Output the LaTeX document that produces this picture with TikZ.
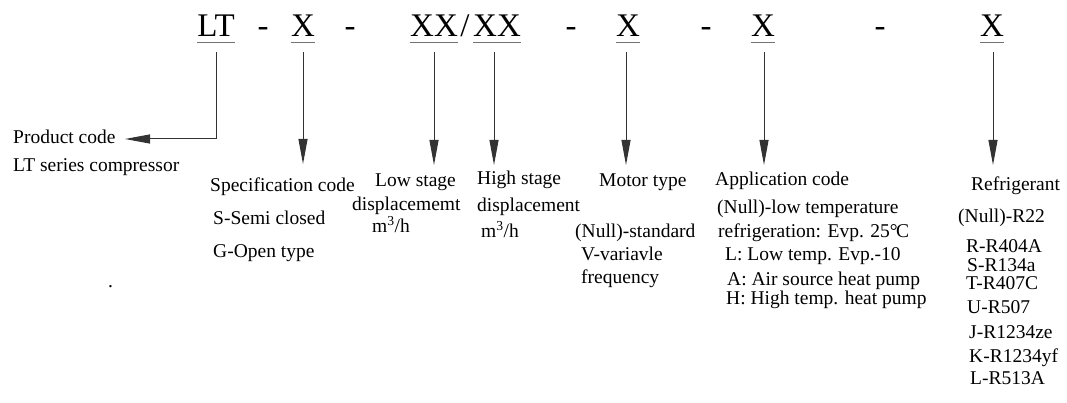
\documentclass[tikz,border=0pt]{standalone}
\usepackage{fontspec}
\setmainfont{Liberation Serif}
\usetikzlibrary{arrows.meta}
\begin{document}
\begin{tikzpicture}[x=1pt,y=-1pt,
  code/.style={inner sep=0pt,anchor=base,font=\fontsize{33}{36}\selectfont},
  desc/.style={inner sep=0pt,anchor=base west,font=\fontsize{19.5}{23}\selectfont,text=black},
  uline/.style={line width=1.6pt,draw=black!55},
  conn/.style={line width=1pt,draw=black!80,-{Triangle[length=25pt,width=9pt]}},
]
\useasboundingbox (0,0) rectangle (1067,403);
% code line
\node[code] (cLT) at (216,37) {LT};
\node[code] (d1) at (263,37) {-};
\node[code] (cS) at (303,37) {X};
\node[code] (d2) at (350,37) {-};
\node[code] (cLo) at (434,37) {XX};
\node[code] (sl) at (465,37) {/};
\node[code] (cHi) at (497,37) {XX};
\node[code] (d3) at (571,37) {-};
\node[code] (cM) at (628,37) {X};
\node[code] (d4) at (706,37) {-};
\node[code] (cA) at (763,37) {X};
\node[code] (d5) at (880,37) {-};
\node[code] (cR) at (992,37) {X};
\foreach \n in {cLT,cS,cLo,cHi,cM,cA,cR}{
  \draw[uline] ([yshift=-5.5pt]\n.base west) -- ([yshift=-5.5pt]\n.base east);
}
% texts
\node[desc] (tP1) at (13,144) {Product code};
\node[desc] (tP2) at (13,172) {LT series compressor};
\node[desc] (tS0) at (210,192) {Specification code};
\node[desc] (tS1) at (213,225) {S-Semi closed};
\node[desc] (tS2) at (213,258) {G-Open type};
\node[desc] (dot) at (108,287) {.};
\node[desc] (tL0) at (375,187) {Low stage};
\node[desc] (tL1) at (352,211) {displacememt};
\node[desc] (tL2) at (372,233) {m\textsuperscript{3}/h};
\node[desc] (tH0) at (477,185) {High stage};
\node[desc] (tH1) at (477,212) {displacement};
\node[desc] (tH2) at (481,238) {m\textsuperscript{3}/h};
\node[desc] (tM0) at (599,187) {Motor type};
\node[desc] (tM1) at (575,237) {(Null)-standard};
\node[desc] (tM2) at (581,261) {V-variavle};
\node[desc] (tM3) at (581,283) {frequency};
\node[desc] (tA0) at (715,186) {Application code};
\node[desc] (tA1) at (717,214) {(Null)-low temperature};
\node[desc] (tA2) at (718,237) {refrigeration: Evp. 25°\kern-0.08em C};
\node[desc] (tA3) at (725,261) {L: Low temp. Evp.-10};
\node[desc] (tA4) at (727,285) {A: Air source heat pump};
\node[desc] (tA5) at (726,304) {H: High temp. heat pump};
\node[desc] (tR0) at (971,191) {Refrigerant};
\node[desc] (tR1) at (958,223) {(Null)-R22};
\node[desc] (tR2) at (966,252) {R-R404A};
\node[desc] (tR3) at (967,271) {S-R134a};
\node[desc] (tR4) at (966,289) {T-R407C};
\node[desc] (tR5) at (967,313) {U-R507};
\node[desc] (tR6) at (969,338) {J-R1234ze};
\node[desc] (tR7) at (969,362) {K-R1234yf};
\node[desc] (tR8) at (970,384) {L-R513A};
% connectors
\coordinate (eP) at (125,139);
\coordinate (kP) at (216,139);
\draw[conn] ([yshift=-15pt]cLT.base) -- (kP) -- (eP);
\coordinate (eS) at (303,164);
\draw[conn] ([yshift=-15pt]cS.base) -- (eS);
\coordinate (eL) at (434,165);
\draw[conn] ([yshift=-15pt]cLo.base) -- (eL);
\coordinate (eH) at (494,165);
\draw[conn] ([yshift=-15pt]cHi.base-|eH) -- (eH);
\coordinate (eM) at (626,165);
\draw[conn] ([yshift=-15pt]cM.base-|eM) -- (eM);
\coordinate (eA) at (764,165);
\draw[conn] ([yshift=-15pt]cA.base-|eA) -- (eA);
\coordinate (eR) at (993,165);
\draw[conn] ([yshift=-15pt]cR.base-|eR) -- (eR);
\end{tikzpicture}
\end{document}
